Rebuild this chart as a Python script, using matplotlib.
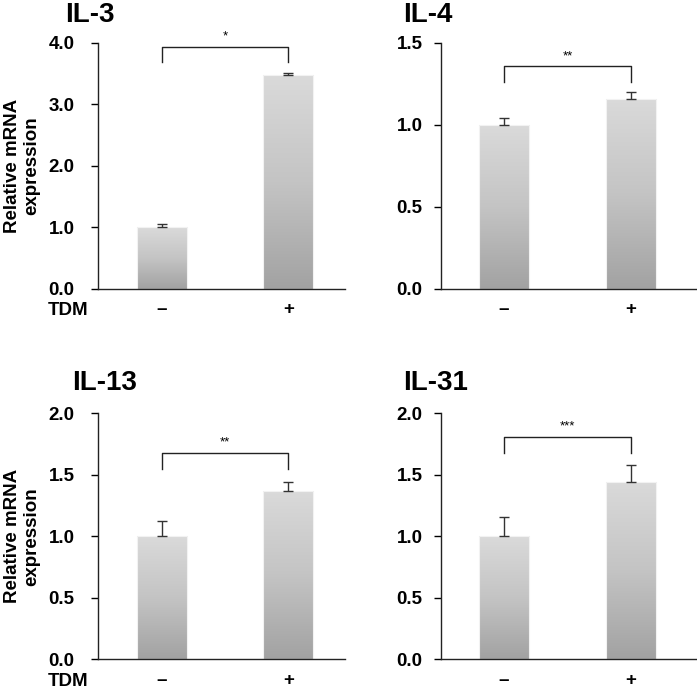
import numpy as np
import matplotlib.pyplot as plt
from matplotlib.colors import LinearSegmentedColormap

plt.rcParams['font.family'] = ['Liberation Sans', 'DejaVu Sans']
plt.rcParams['font.weight'] = 'bold'

# data
genes = ['IL-3', 'IL-4', 'IL-13', 'IL-31']
tdm_labels = ['\u2013', '+']
means = [[1.00, 3.47], [1.00, 1.16], [1.00, 1.37], [1.00, 1.44]]
errors = [[0.05, 0.04], [0.04, 0.04], [0.12, 0.07], [0.16, 0.14]]
stars = ['*', '**', '**', '***']
bracket_top = [3.94, 1.36, 1.68, 1.81]
bracket_leg = [3.69, 1.26, 1.55, 1.68]
ymax = [4.0, 1.5, 2.0, 2.0]
yticks = [[0.0, 1.0, 2.0, 3.0, 4.0], [0.0, 0.5, 1.0, 1.5],
          [0.0, 0.5, 1.0, 1.5, 2.0], [0.0, 0.5, 1.0, 1.5, 2.0]]

W, H = 697, 691
# axes boxes in figure fraction: left, bottom, width, height
boxes = [[0.140, 0.582, 0.355, 0.356],
         [0.632, 0.582, 0.368, 0.356],
         [0.140, 0.046, 0.355, 0.356],
         [0.632, 0.046, 0.368, 0.356]]
xlims = [(-0.51, 1.45), (-0.50, 1.52), (-0.51, 1.45), (-0.50, 1.52)]
# title anchor (left, vertical centre) in pixels
title_px = [(65, 15), (403, 15), (72, 383), (403, 383)]
ypads = [11.5, 8, 11.5, 8]

cmap = LinearSegmentedColormap.from_list('bar', ['#a2a2a2', '#c4c4c4', '#dadada'])
grad = np.linspace(0, 1, 256).reshape(-1, 1)

fig = plt.figure(figsize=(W / 100, H / 100), dpi=100)

for i, gene in enumerate(genes):
    ax = fig.add_axes(boxes[i])
    x = np.arange(2)
    bars = ax.bar(x, means[i], width=0.40, color='none', edgecolor='#f2f2f2',
                  linewidth=0.8, zorder=2)
    for b in bars:
        x0, w, h = b.get_x(), b.get_width(), b.get_height()
        im = ax.imshow(grad, cmap=cmap, origin='lower', aspect='auto',
                       extent=(x0, x0 + w, 0, h), zorder=1)
        im.set_clip_path(b)
    ax.errorbar(x, means[i], yerr=[[0, 0], errors[i]], fmt='none',
                ecolor='#333333', elinewidth=1.0, capsize=3.5, capthick=1.0, zorder=3)

    # significance bracket
    ax.plot([0, 0, 1, 1], [bracket_leg[i], bracket_top[i], bracket_top[i], bracket_leg[i]],
            color='#222222', lw=1.0, zorder=3)
    ax.text(0.5, bracket_top[i] + ymax[i] * 0.015, stars[i], ha='center', va='bottom',
            fontsize=9.5, fontweight='normal')

    ax.set_xlim(*xlims[i])
    ax.set_ylim(0, ymax[i])
    ax.set_yticks(yticks[i])
    ax.set_yticklabels([f'{t:.1f}' for t in yticks[i]], fontsize=13.5, fontweight='bold')
    ax.set_xticks(x)
    ax.set_xticklabels(tdm_labels, fontsize=13.5, fontweight='bold')
    ax.tick_params(axis='x', length=0, pad=9)
    ax.tick_params(axis='y', length=5, width=1, direction='out', pad=ypads[i])
    for s in ['top', 'right']:
        ax.spines[s].set_visible(False)
    for s in ['left', 'bottom']:
        ax.spines[s].set_linewidth(1.0)
        ax.spines[s].set_color('#222222')

    tx, ty = title_px[i]
    fig.text(tx / W, 1 - ty / H, gene, ha='left', va='center',
             fontsize=20, fontweight='bold')

    if i % 2 == 0:
        b = boxes[i]
        fig.text(22 / W, b[1] + b[3] / 2, 'Relative mRNA\nexpression', rotation=90,
                 ha='center', va='center', fontsize=13.5, fontweight='bold',
                 linespacing=1.15, multialignment='center')
        fig.text(88 / W, b[1] - 22 / H, 'TDM', ha='right', va='center',
                 fontsize=13.5, fontweight='bold')

fig.savefig('out.png', dpi=100)
